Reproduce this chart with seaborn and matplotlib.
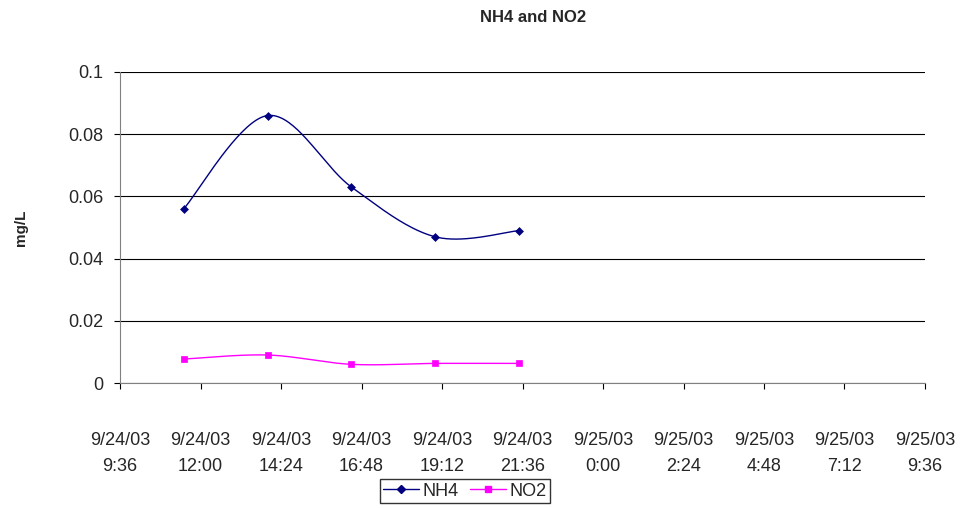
import numpy as np
import pandas as pd
import matplotlib
matplotlib.use("Agg")
import matplotlib.pyplot as plt
import matplotlib.dates as mdates
import seaborn as sns

sns.set_style("white")
plt.rcParams['font.family'] = ['Liberation Sans', 'DejaVu Sans']

times = pd.to_datetime(["2003-09-24 11:30", "2003-09-24 14:00", "2003-09-24 16:30",
                        "2003-09-24 19:00", "2003-09-24 21:30"])
nh4 = [0.056, 0.086, 0.063, 0.047, 0.049]
no2 = [0.0077, 0.009, 0.006, 0.0063, 0.0063]

x0 = pd.Timestamp("2003-09-24 09:36")
x1 = pd.Timestamp("2003-09-25 09:36")
ticks = pd.date_range(x0, x1, freq="144min")

fig = plt.figure(figsize=(9.63, 5.08), dpi=100)
ax = fig.add_axes([120/963, 1-383/508, 805/963, 311/508])

xmin, xmax = mdates.date2num(x0), mdates.date2num(x1)


def smooth(xs, ys, yr):
    # Excel-style smoothing in screen-like units (Catmull-Rom bezier)
    px = (np.asarray(xs) - xmin) / (xmax - xmin) * 805
    py = np.asarray(ys) / yr * 311
    P = np.column_stack([px, py])
    out = []
    n = len(P)
    for i in range(n - 1):
        p0 = P[max(i - 1, 0)]
        p1, p2 = P[i], P[i + 1]
        p3 = P[min(i + 2, n - 1)]
        c1 = p1 + (p2 - p0) / 6
        c2 = p2 - (p3 - p1) / 6
        t = np.linspace(0, 1, 40)[:, None]
        out.append((1-t)**3*p1 + 3*(1-t)**2*t*c1 + 3*(1-t)*t**2*c2 + t**3*p2)
    c = np.vstack(out)
    return xmin + c[:, 0] / 805 * (xmax - xmin), c[:, 1] / 311 * yr


tn = mdates.date2num(times)
df = pd.DataFrame({"t": np.concatenate([tn, tn]), "v": nh4 + no2,
                   "s": ["NH4"] * 5 + ["NO2"] * 5})
colors = {"NH4": "#000080", "NO2": "#FF00FF"}
markers = {"NH4": "D", "NO2": "s"}
for name, vals in [("NH4", nh4), ("NO2", no2)]:
    sx, sy = smooth(tn, vals, 0.1)
    ax.plot(sx, sy, color=colors[name], lw=1)
    sub = df[df.s == name]
    sns.scatterplot(data=sub, x="t", y="v", ax=ax, color=colors[name],
                    marker=markers[name], s=16 if name == "NH4" else 22,
                    edgecolor=colors[name], linewidth=0.5, legend=False, zorder=3)
    ax.plot([], [], color=colors[name], marker=markers[name], ms=4 if name == "NH4" else 5,
            lw=1, label=name)

ax.set_xlim(xmin, xmax)
ax.set_ylim(0, 0.1)
ax.set_yticks([0, 0.02, 0.04, 0.06, 0.08, 0.1])
ax.set_yticklabels(["0", "0.02", "0.04", "0.06", "0.08", "0.1"], fontsize=13)
ax.set_xticks(mdates.date2num(ticks))
ax.set_xticklabels([f"{t.month}/{t.day}/{t.strftime('%y')}\n{t.hour}:{t.minute:02d}" for t in ticks],
                   fontsize=13, linespacing=1.75)
ax.tick_params(axis="x", pad=31)
ax.tick_params(axis="y", pad=8)
ax.tick_params(axis="both", length=4, direction="out", color="black", bottom=True, left=True)
ax.grid(axis="y", color="black", lw=0.8)
for s in ["top", "right"]:
    ax.spines[s].set_visible(False)
for s in ["left", "bottom"]:
    ax.spines[s].set_color("#808080")
ax.set_xlabel("")
ax.set_ylabel("mg/L", fontsize=11, fontweight="bold", labelpad=29)
fig.text(533/963, 1 - 18/508, "NH4 and NO2", ha="center", va="center",
         fontsize=12, fontweight="bold")
leg = fig.legend(loc="center", bbox_to_anchor=(465/963, 1 - 491/508), ncol=2, fontsize=13,
                 frameon=True, fancybox=False, edgecolor="black", handlelength=2,
                 columnspacing=0.6, handletextpad=0.2, borderpad=0.2)
fig.savefig("out.png", dpi=100)
